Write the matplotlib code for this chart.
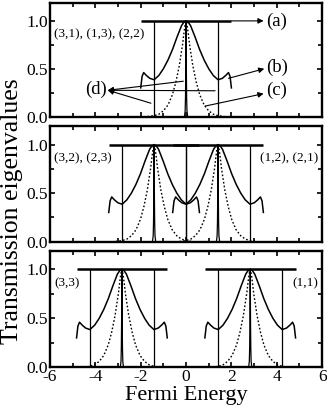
import matplotlib
matplotlib.use("Agg")
import matplotlib.pyplot as plt
from matplotlib.ticker import MultipleLocator
import numpy as np

plt.rcParams['font.family'] = ['Liberation Serif', 'DejaVu Serif']
plt.rcParams['axes.unicode_minus'] = False

# mode energies for each panel
centers = [[0.0], [-1.41, 1.41], [-2.83, 2.83]]
labels_left = ["(3,1), (1,3), (2,2)", "(3,2), (2,3)", "(3,3)"]
labels_right = ["", "(1,2), (2,1)", "(1,1)"]

# band (a): T=1 over +-2 around each mode, edge lines (d) at +-1.41
band_half = 2.0
edge_off = 1.41

# curve (b), solid, half profile (offset from mode, T)
b_off = [0.0, 0.1, 0.2, 0.4, 0.6, 0.8, 1.0, 1.2, 1.41, 1.6, 1.75, 1.87, 1.94, 2.0]
b_val = [1.0, 0.985, 0.95, 0.83, 0.70, 0.59, 0.50, 0.43, 0.385, 0.40, 0.43, 0.46, 0.42, 0.30]

# curve (c), dotted, half profile
c_off = [0.0, 0.05, 0.1, 0.15, 0.3, 0.45, 0.6, 0.8, 1.0, 1.2, 1.41, 1.7]
c_val = [1.0, 0.95, 0.86, 0.76, 0.53, 0.36, 0.23, 0.12, 0.06, 0.025, 0.01, 0.0]

# narrow spike (d) at the mode itself, half profile
s_off = [0.0, 0.012, 0.025, 0.04, 0.07]
s_val = [1.0, 0.5, 0.2, 0.06, 0.0]


def mirror(off, val):
    off = np.asarray(off)
    val = np.asarray(val)
    return np.concatenate([-off[::-1], off[1:]]), np.concatenate([val[::-1], val[1:]])


def draw_mode(ax, c):
    ax.plot([c - band_half, c + band_half], [1, 1], color='k', lw=1.8, solid_capstyle='butt')
    x, y = mirror(b_off, b_val)
    ax.plot(c + x, y, color='k', lw=1.1)
    x, y = mirror(c_off, c_val)
    ax.plot(c + x, y, color='k', lw=1.0, ls=(0, (1.2, 1.5)))
    x, y = mirror(s_off, s_val)
    ax.plot(c + x, y, color='k', lw=0.9)
    ax.vlines([c - edge_off, c + edge_off], 0, 1, color='k', lw=0.9)


fig = plt.figure(figsize=(3.27, 4.15), dpi=100)
boxes = [(0.719, 0.9935), (0.418, 0.696), (0.115, 0.396)]
axes = []
for i, (b, t) in enumerate(boxes):
    ax = fig.add_axes([0.153, b, 0.832, t - b])
    for c in centers[i]:
        draw_mode(ax, c)
    ax.set_xlim(-6, 6)
    ax.set_ylim(0, 1.19)
    ax.xaxis.set_major_locator(MultipleLocator(2))
    ax.xaxis.set_minor_locator(MultipleLocator(1))
    ax.yaxis.set_major_locator(MultipleLocator(0.5))
    ax.yaxis.set_minor_locator(MultipleLocator(0.25))
    ax.tick_params(which='both', direction='in', top=True, right=True, width=1.2)
    ax.tick_params(which='major', length=3.5, labelsize=12.5, pad=1.5)
    ax.tick_params(which='minor', length=3.0)
    ax.set_yticks([0, 0.5, 1.0])
    ax.set_yticklabels(["0.0", "0.5", "1.0"])
    for sp in ax.spines.values():
        sp.set_linewidth(1.7)
    if i < 2:
        ax.set_xticklabels([])
    ax.text(0.015, 0.72, labels_left[i], transform=ax.transAxes, fontsize=9.5,
            ha='left', va='center')
    if labels_right[i]:
        ax.text(0.985, 0.72, labels_right[i], transform=ax.transAxes, fontsize=9.5,
                ha='right', va='center')
    axes.append(ax)

# arrows and labels in the top panel
ax = axes[0]
arr = dict(arrowstyle='-|>', color='k', lw=0.8, mutation_scale=8, shrinkA=0, shrinkB=0)
ax.annotate("", xy=(3.42, 1.0), xytext=(2.0, 1.0), arrowprops=arr)
ax.annotate("", xy=(3.45, 0.50), xytext=(1.87, 0.40), arrowprops=arr)
ax.annotate("", xy=(3.42, 0.24), xytext=(0.84, 0.11), arrowprops=arr)
for src in [(-0.12, 0.37), (1.28, 0.27), (-1.55, 0.14)]:
    ax.annotate("", xy=(-3.45, 0.275), xytext=src, arrowprops=arr)
ax.text(3.52, 1.0, "(a)", fontsize=13.5, ha='left', va='center')
ax.text(3.52, 0.51, "(b)", fontsize=13.5, ha='left', va='center')
ax.text(3.52, 0.27, "(c)", fontsize=13.5, ha='left', va='center')
ax.text(-3.5, 0.28, "(d)", fontsize=13.5, ha='right', va='center')

fig.text(0.037, 0.49, "Transmission eigenvalues", rotation=90, fontsize=18.5,
         ha='center', va='center')
fig.text(0.569, 0.047, "Fermi Energy", fontsize=16, ha='center', va='center')

fig.savefig("out.png", dpi=100)
